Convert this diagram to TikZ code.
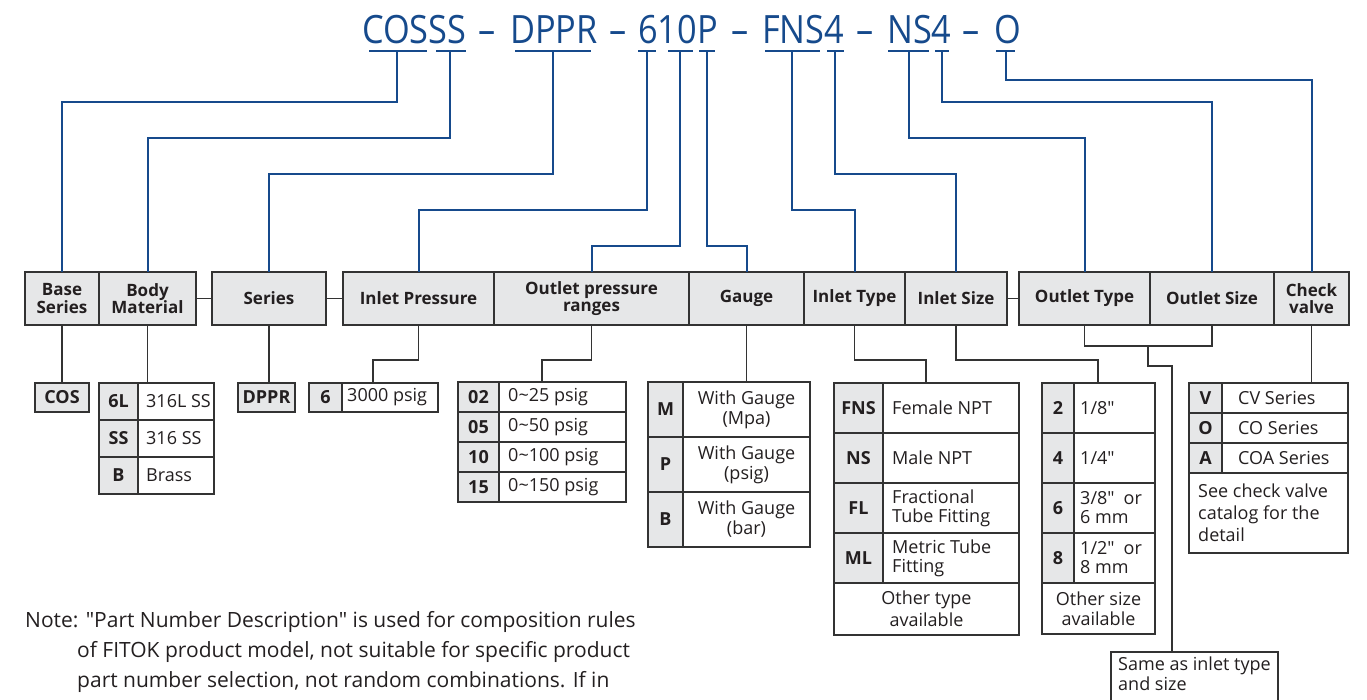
\documentclass[tikz,border=0pt]{standalone}
\usepackage{fontspec}
\setmainfont{Open Sans}[Ligatures=TeXOff]
\usetikzlibrary{calc}

\definecolor{pnblue}{RGB}{22,74,140}
\definecolor{cellgray}{RGB}{230,231,232}
\definecolor{rulec}{RGB}{51,51,51}
\definecolor{ink}{RGB}{35,31,32}

\newcommand\tfont{\fontsize{18}{19}\selectfont}
\newcommand\hfont{\fontsize{17}{17.5}\selectfont\bfseries}
\newcommand\ttlfont{\fontsize{39}{39}\selectfont}
\newcommand\notefont{\fontsize{21}{21}\selectfont}
\newcommand\ttl[1]{\scalebox{0.88}[1]{#1}}

% one table row: code cell + value cell, value text left aligned with \tpad
\def\tpad{8}
\newcommand\trow[8]{%
  \node[codecell, minimum width=#4, minimum height=#6] (#1c) at (#2,#3) {#7};
  \node[valcell, minimum width=#5, minimum height=#6] (#1v) at (#1c.north east) {};
  \node[vtext] at ([xshift=\tpad]#1v.west) {#8};}

\begin{document}
\begin{tikzpicture}[x=1pt,y=-1pt,
  cell/.style={draw=rulec, line width=1.2pt, inner sep=0pt, outer sep=0pt,
    anchor=north west, text=ink},
  codecell/.style={cell, fill=cellgray, font=\tfont\bfseries, align=center},
  valcell/.style={cell, fill=white},
  vtext/.style={anchor=west, inner sep=0pt, align=left, font=\tfont, text=ink},
  hdr/.style={cell, fill=cellgray, font=\hfont, align=center, minimum height=53},
  ttlpart/.style={anchor=base west, inner sep=0pt, font=\ttlfont, text=pnblue},
  ttldash/.style={anchor=base, inner sep=0pt, font=\ttlfont, text=pnblue},
  uline/.style={draw=pnblue, line width=2.6pt},
  bline/.style={draw=pnblue, line width=2pt},
  dline/.style={draw=rulec, line width=1.2pt},
  notetext/.style={anchor=base west, inner sep=0pt, font=\notefont, text=ink}]

\useasboundingbox (0,0) rectangle (1367,699);
\clip (0,0) rectangle (1367,699);

% ---------- part number ----------
\node[ttlpart] (t1) at (362,43) {\ttl{COSSS}};
\node[ttldash] (d1) at (487,43) {\ttl{–}};
\node[ttlpart] (t2) at (510,43) {\ttl{DPPR}};
\node[ttldash] (d2) at (618,43) {\ttl{–}};
\node[ttlpart] (t3) at (638,43) {\ttl{610P}};
\node[ttldash] (d3) at (740,43) {\ttl{–}};
\node[ttlpart] (t4) at (762,43) {\ttl{FNS4}};
\node[ttldash] (d4) at (865,43) {\ttl{–}};
\node[ttlpart] (t5) at (887,43) {\ttl{NS4}};
\node[ttldash] (d5) at (971,43) {\ttl{–}};
\node[ttlpart] (t6) at (994,43) {\ttl{O}};

% underlines below each field
\foreach \a/\b in {369/427, 436/466, 515/591, 638/656, 668/693, 699/715,
                   765/820, 827/844, 888/929, 935/949, 996/1015}
  \draw[uline] (\a,51) -- (\b,51);

\coordinate (s1) at (397,51);
\coordinate (s2) at (450,51);
\coordinate (s3) at (553,51);
\coordinate (s4) at (647,51);
\coordinate (s5) at (680,51);
\coordinate (s6) at (707,51);
\coordinate (s7) at (792,51);
\coordinate (s8) at (835,51);
\coordinate (s9) at (909,51);
\coordinate (s10) at (942,51);
\coordinate (s11) at (1006,51);

% ---------- header row ----------
\node[hdr, minimum width=74]  (hbase)    at (25,272)   {Base\\Series};
\node[hdr, minimum width=97]  (hbody)    at (99,272)   {Body\\Material};
\node[hdr, minimum width=114] (hseries)  at (212,272)  {Series};
\node[hdr, minimum width=151] (hinp)     at (343,272)  {Inlet Pressure};
\node[hdr, minimum width=195] (houtp)    at (494,272)  {Outlet pressure\\ranges};
\node[hdr, minimum width=115] (hgauge)   at (689,272)  {Gauge};
\node[hdr, minimum width=101] (hintype)  at (804,272)  {Inlet Type};
\node[hdr, minimum width=102] (hinsize)  at (905,272)  {Inlet Size};
\node[hdr, minimum width=131] (houttype) at (1019,272) {Outlet Type};
\node[hdr, minimum width=124] (houtsize) at (1150,272) {Outlet Size};
\node[hdr, minimum width=75]  (hcheck)   at (1274,272) {Check\\valve};

\draw[dline] (hbody.east) -- (hseries.west);
\draw[dline] (hseries.east) -- (hinp.west);
\draw[dline] (hinsize.east) -- (houttype.west);

% blue leaders from the part number to the headers
\draw[bline] (s1) -- ++(0,51) -| (hbase.north);
\draw[bline] (s2) -- ++(0,87) -| (hbody.north);
\draw[bline] (s3) -- ++(0,123) -| (hseries.north);
\draw[bline] (s4) -- ++(0,159) -| (hinp.north);
\draw[bline] (s5) -- ++(0,195) -| (houtp.north);
\draw[bline] (s6) -- ++(0,195) -| (hgauge.north);
\draw[bline] (s7) -- ++(0,159) -| (hintype.north);
\draw[bline] (s8) -- ++(0,123) -| (hinsize.north);
\draw[bline] (s9) -- ++(0,87) -| (houttype.north);
\draw[bline] (s10) -- ++(0,51) -| (houtsize.north);
\draw[bline] (s11) -- ++(0,29) -| (hcheck.north);

% ---------- option tables ----------
\node[codecell, minimum width=54, minimum height=29] (cos) at (35,383) {COS};

\def\tpad{8}
\trow{b1}{99}{383}{39}{76}{37}{6L}{316L SS}
\trow{b2}{99}{420}{39}{76}{37}{SS}{316 SS}
\trow{b3}{99}{457}{39}{76}{37}{B}{Brass}

\node[codecell, minimum width=57, minimum height=29] (dppr) at (238,383) {DPPR};

\def\tpad{5}
\trow{p1}{309}{383}{33}{96}{29}{6}{3000 psig}

\def\tpad{9}
\trow{o1}{458}{382}{41}{127}{30}{02}{0\textasciitilde 25 psig}
\trow{o2}{458}{412}{41}{127}{30}{05}{0\textasciitilde 50 psig}
\trow{o3}{458}{442}{41}{127}{30}{10}{0\textasciitilde 100 psig}
\trow{o4}{458}{472}{41}{127}{30}{15}{0\textasciitilde 150 psig}

% gauge table, values centred
\foreach \nm/\yy/\cd/\tx in {g1/382/M/{With Gauge\\(Mpa)}, g2/437/P/{With Gauge\\(psig)},
                             g3/492/B/{With Gauge\\(bar)}} {
  \node[codecell, minimum width=35, minimum height=55] (\nm c) at (648,\yy) {\cd};
  \node[valcell, minimum width=127, minimum height=55, font=\fontsize{18}{20}\selectfont,
        align=center] (\nm v) at (\nm c.north east) {\tx};
}

\def\tpad{9}
\trow{i1}{834}{383}{49}{136}{50}{FNS}{Female NPT}
\trow{i2}{834}{433}{49}{136}{50}{NS}{Male NPT}
\trow{i3}{834}{483}{49}{136}{50}{FL}{\fontsize{18}{21}\selectfont Fractional\\Tube Fitting}
\trow{i4}{834}{533}{49}{136}{50}{ML}{\fontsize{18}{21}\selectfont Metric Tube\\Fitting}
\node[valcell, minimum width=185, minimum height=52, align=center,
      font=\fontsize{18}{22}\selectfont] (i5) at (834,583) {Other type\\available};

\def\tpad{6}
\trow{z1}{1042}{383}{32}{81}{50}{2}{1/8"}
\trow{z2}{1042}{433}{32}{81}{50}{4}{1/4"}
\trow{z3}{1042}{483}{32}{81}{50}{6}{\fontsize{18}{16}\selectfont 3/8"\enspace or\\6 mm}
\trow{z4}{1042}{533}{32}{81}{50}{8}{\fontsize{18}{16}\selectfont 1/2"\enspace or\\8 mm}
\node[valcell, minimum width=113, minimum height=51, align=center,
      font=\fontsize{18}{20}\selectfont] (z5) at (1042,583) {Other size\\available};

\def\tpad{16}
\trow{c1}{1189}{383}{33}{126}{30}{V}{CV Series}
\trow{c2}{1189}{413}{33}{126}{30}{O}{CO Series}
\trow{c3}{1189}{443}{33}{126}{30}{A}{COA Series}
\node[valcell, minimum width=159, minimum height=80] (c4) at (1189,473) {};
\node[vtext, font=\fontsize{18}{22}\selectfont] (c4t) at ([xshift=9]c4.west)
  {See check valve\\catalog for the\\detail};

\node[valcell, minimum width=167, minimum height=70] (same) at (1111,652) {};
\node[vtext, anchor=north west, font=\fontsize{18}{20}\selectfont] (samet)
  at ([xshift=7,yshift=-5]same.north west) {Same as inlet type\\and size};

% ---------- leaders from headers to tables ----------
\coordinate (ptop) at (373,383);
\coordinate (otop) at (542,382);
\coordinate (ttop) at (926,383);
\coordinate (ztop) at (1098,383);
\coordinate (brk) at (1148,346);
\coordinate (samein) at (1172,652);

\draw[dline] (hbase.south) -- (cos.north);
\draw[dline] (hbody.south) -- (hbody.south |- b1v.north);
\draw[dline] (hseries.south) -- (hseries.south |- dppr.north);
\draw[dline] (hinp.south) -- ++(0,35) -| (ptop);
\draw[dline] (houtp.south) -- ++(0,35) -| (otop);
\draw[dline] (hgauge.south) -- (hgauge.south |- g1v.north);
\draw[dline] (hintype.south) -- ++(0,35) -| (ttop);
\draw[dline] (hinsize.south) -- ++(0,35) -| (ztop);
\draw[dline] (houttype.south) -- ++(0,21) -| (houtsize.south);
\draw[dline] (brk) -- ++(0,20) -| (samein);
\draw[dline] (hcheck.south) -- (hcheck.south |- c1v.north);

% ---------- note ----------
\node[notetext] (note1) at (25,627)
  {Note: "Part Number Description" is used for composition rules};
\node[notetext] (note2) at (77,657)
  {of FITOK product model, not suitable for specific product};
\node[notetext] (note3) at (77,687)
  {part number selection, not random combinations. If in};

\end{tikzpicture}
\end{document}
